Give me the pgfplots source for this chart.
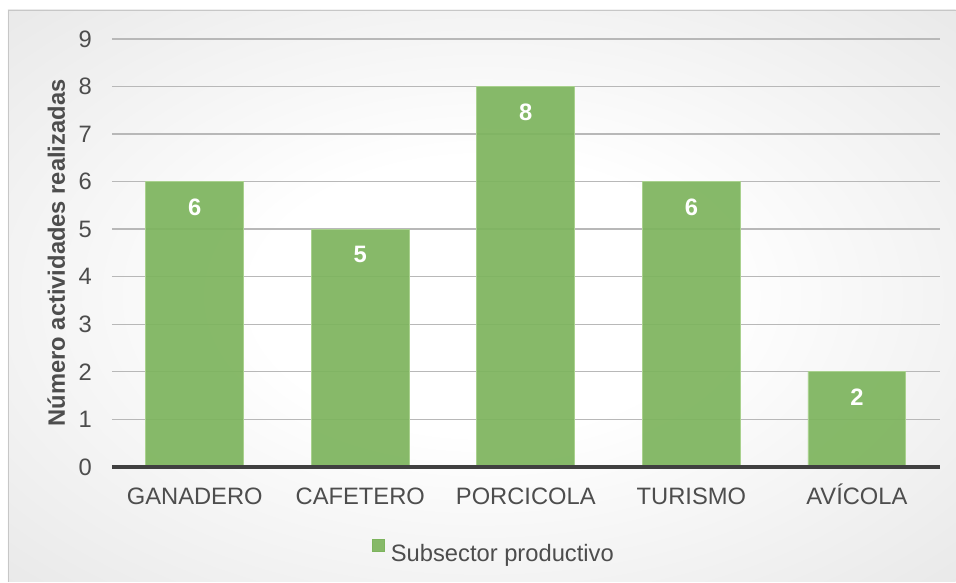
\documentclass[border=0pt]{standalone}
\usepackage{pgfplots}
\pgfplotsset{compat=1.18}
\usepackage{fontspec}
\setmainfont{Liberation Sans}
\definecolor{barfill}{HTML}{7DB45D}
\definecolor{baredge}{HTML}{A9D18E}
\definecolor{txt}{HTML}{4D4D4D}
\definecolor{axln}{HTML}{404040}
\definecolor{gridc}{HTML}{B8B8B8}
\definecolor{bgout}{HTML}{C8C8C8}
\pgfdeclareradialshading{bgshade}{\pgfpoint{0bp}{0bp}}{color(0bp)=(white); color(12bp)=(white); color(71bp)=(bgout); color(80bp)=(bgout)}
\newcommand\cf{\fontsize{17.8}{21}\selectfont}
\begin{document}
\begin{tikzpicture}
\fill[white] (0,0) rectangle (717pt,436.5pt);
\shade[shading=bgshade] (6pt,0pt) rectangle (717pt,429pt);
\draw[black!22, line width=0.5pt] (6pt,0pt) -- (6pt,429pt) -- (717pt,429pt);
\begin{axis}[
  at={(84pt,86.25pt)}, anchor=south west,
  scale only axis, width=621pt, height=321pt,
  ybar, bar width=73.5pt,
  xmin=-0.5, xmax=4.5, ymin=0, ymax=9,
  xtick={0,1,2,3,4},
  xticklabels={GANADERO, CAFETERO, PORCICOLA, TURISMO, AVÍCOLA},
  ytick={0,1,2,3,4,5,6,7,8,9},
  major tick length=0pt,
  axis line style={draw=none},
  ymajorgrids, grid style={draw=gridc, line width=1pt},
  /pgf/number format/assume math mode=true,
  tick label style={font=\cf, text=txt},
  yticklabel style={anchor=east, inner sep=0pt, xshift=-15pt},
  xticklabel style={anchor=base, inner sep=0pt, yshift=-28.5pt},
  ylabel={\textbf{Número actividades realizadas}},
  every axis y label/.style={at={(rel axis cs:0,0.5)}, xshift=-35.25pt, rotate=90, anchor=base, font=\cf, text=txt},
  legend style={at={(0.314,-0.197)}, anchor=west, draw=none, fill=none, inner sep=0pt,
    font=\cf, text=txt, nodes={inner sep=0pt}, column sep=4.5pt},
  clip=false,
]
\addplot[fill=barfill, fill opacity=0.92, draw=baredge, line width=0.6pt,
  nodes near coords,
  every node near coord/.style={anchor=center, yshift=-19pt, font=\cf\bfseries, text=white, fill opacity=1, text opacity=1},
  legend image code/.code={\fill[barfill] (0pt,1.9pt) rectangle (9pt,10.9pt);}
] coordinates {(0,6) (1,5) (2,8) (3,6) (4,2)};
\addlegendentry{Subsector productivo}
\draw[axln, line width=3pt] (axis cs:-0.5,0) -- (axis cs:4.5,0);
\end{axis}
\end{tikzpicture}
\end{document}
